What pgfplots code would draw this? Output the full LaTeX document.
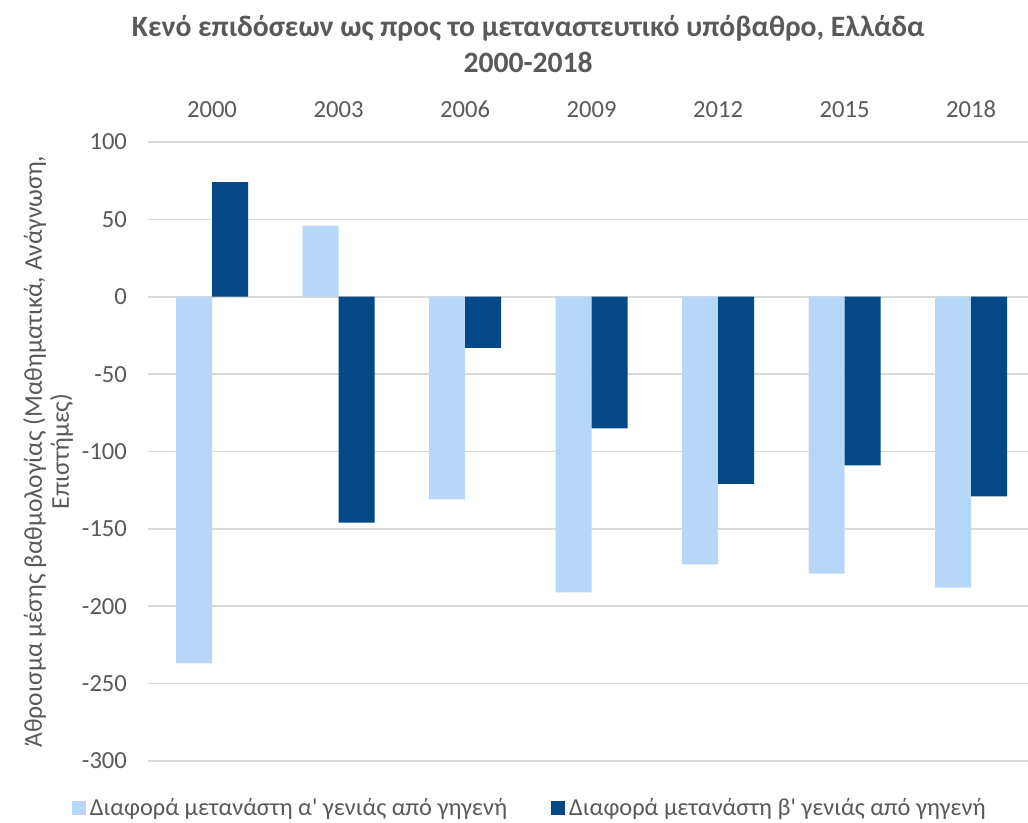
\documentclass[border=0pt]{standalone}
\usepackage{pgfplots}
\pgfplotsset{compat=1.18}
\usepackage{fontspec}
\setmainfont{Carlito}[Ligatures=TeXOff]
\definecolor{txt}{HTML}{595959}
\definecolor{grid}{HTML}{D9D9D9}
\definecolor{lightb}{HTML}{B7D7F8}
\definecolor{darkb}{HTML}{034887}
\begin{document}
\begin{tikzpicture}
\useasboundingbox (0,0) rectangle (514pt,411.5pt);
\begin{axis}[
  at={(74pt,31pt)}, anchor=south west,
  scale only axis,
  width=440pt, height=309.5pt,
  ybar=0pt, bar width=18pt,
  xmin=-0.506, xmax=6.45,
  ymin=-300, ymax=100,
  ytick={-300,-250,...,100},
  xtick={0,...,6},
  xticklabels={2000,2003,2006,2009,2012,2015,2018},
  xticklabel pos=upper,
  major tick length=0pt,
  axis line style={draw=none},
  ymajorgrids=true,
  grid style={draw=grid, line width=0.8pt},
  font=\fontsize{12.3}{14}\selectfont,
  every tick label/.append style={text=txt},
  /pgf/number format/assume math mode=true,
  xticklabel style={anchor=base, yshift=12.3pt},
  yticklabel style={xshift=-7pt},
  ylabel={Άθροισμα μέσης βαθμολογίας (Μαθηματικά, Ανάγνωση,\\Επιστήμες)},
  ylabel style={at={(axis description cs:-0.1136,0.5)}, anchor=center, align=center, text=txt, font=\fontsize{12.8}{13.5}\selectfont},
  legend style={at={(axis description cs:0.435,-0.076)}, anchor=center, draw=none, fill=none, legend columns=2, text=txt, font=\fontsize{12.2}{14}\selectfont, /tikz/every even column/.append style={column sep=20pt}},
  legend image code/.code={\fill[#1,draw=none] (0pt,-3.5pt) rectangle (7pt,3.5pt);},
  clip=false,
]
\addplot[fill=lightb, draw=none] coordinates {
  (0,-237) (1,46) (2,-131) (3,-191) (4,-173) (5,-179) (6,-188)};
\addplot[fill=darkb, draw=none] coordinates {
  (0,74) (1,-146) (2,-33) (3,-85) (4,-121) (5,-109) (6,-129)};
\legend{Διαφορά μετανάστη α' γενιάς από γηγενή, Διαφορά μετανάστη β' γενιάς από γηγενή}
\node[font=\fontsize{14.8}{18}\selectfont\bfseries, text=txt, align=center, anchor=center]
  at (axis description cs:0.432,1.159) {Κενό επιδόσεων ως προς το μεταναστευτικό υπόβαθρο, Ελλάδα\\2000-2018};
\end{axis}
\end{tikzpicture}
\end{document}
